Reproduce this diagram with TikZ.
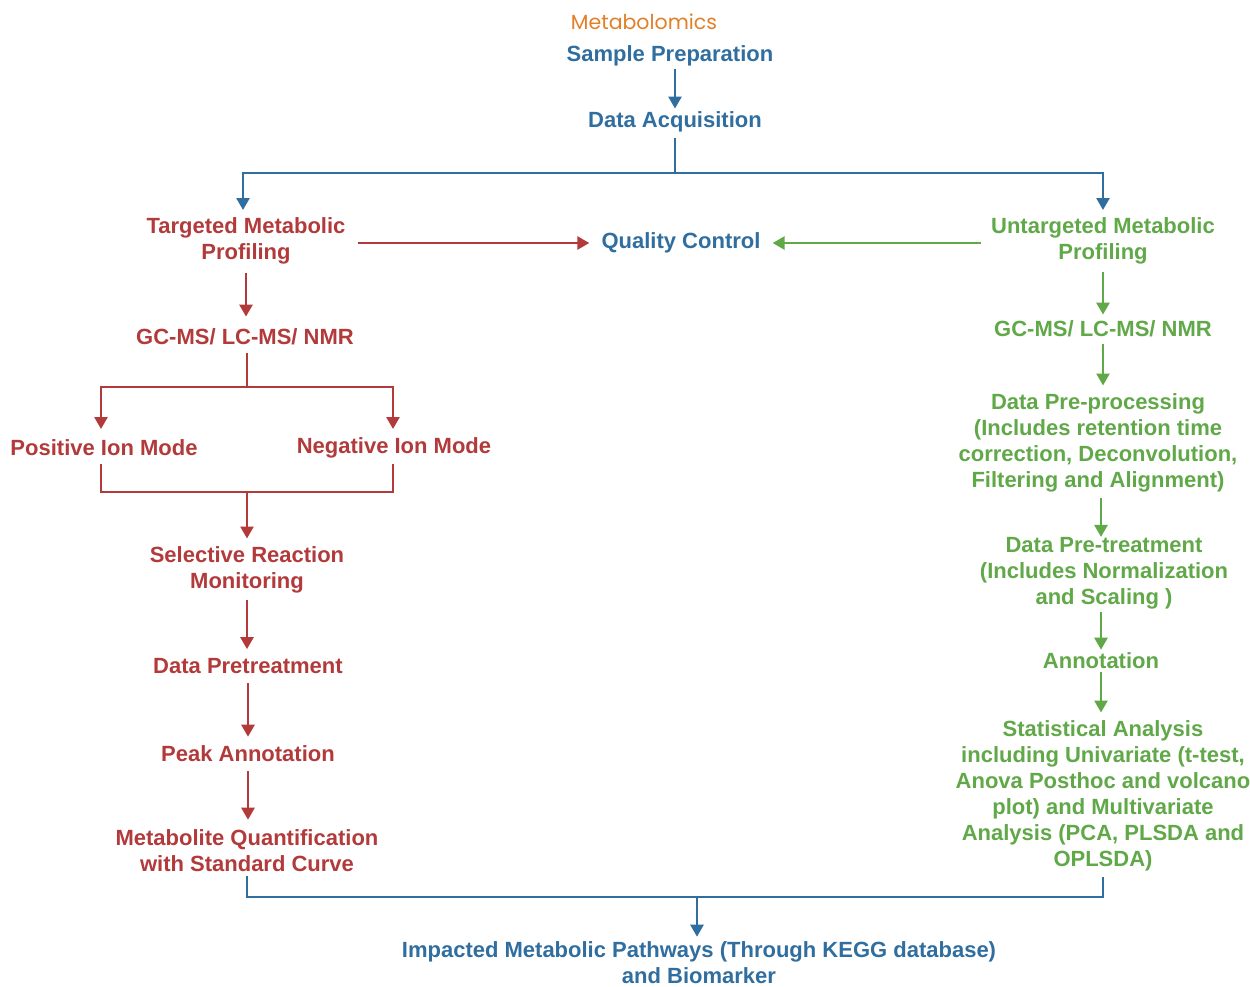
\documentclass[tikz,border=0pt]{standalone}
\usepackage{fontspec}
\setmainfont{Liberation Sans}
\newfontfamily\titlefont{Poppins}
\usetikzlibrary{arrows.meta}
\definecolor{cblue}{RGB}{48,110,160}
\definecolor{cred}{RGB}{178,58,58}
\definecolor{cgreen}{RGB}{96,168,72}
\definecolor{corange}{RGB}{226,128,40}
\tikzset{
  lbl/.style={inner sep=0pt, align=center, font=\fontsize{22}{26}\selectfont\bfseries},
  conn/.style={line width=2.6pt},
  arr/.style={conn, -{Triangle[width=13pt,length=12pt]}},
}
\begin{document}
\begin{tikzpicture}[x=1pt,y=-1pt]
\useasboundingbox (0,0) rectangle (1250,986);
% title and top
\node[font=\titlefont\fontsize{20.5}{24}\selectfont, text=corange, inner sep=0pt] (title) at (644,22) {Metabolomics};
\node[lbl, text=cblue] (sp) at (670,56) {Sample Preparation};
\node[lbl, text=cblue] (da) at (675,122) {Data Acquisition};
\node[lbl, text=cblue] (qc) at (681,243) {Quality Control};
% targeted branch
\node[lbl, text=cred] (tmp) at (246,241) {Targeted Metabolic\\Profiling};
\node[lbl, text=cred] (gcl) at (245,337) {GC-MS/ LC-MS/ NMR};
\node[lbl, text=cred] (pos) at (104,448) {Positive Ion Mode};
\node[lbl, text=cred] (neg) at (394,448) {Negative Ion Mode};
\node[lbl, text=cred] (srm) at (247,570) {Selective Reaction\\Monitoring};
\node[lbl, text=cred] (dpt) at (248,666) {Data Pretreatment};
\node[lbl, text=cred] (pa) at (248,754) {Peak Annotation};
\node[lbl, text=cred] (mq) at (247,851) {Metabolite Quantification\\with Standard Curve};
% untargeted branch
\node[lbl, text=cgreen] (utm) at (1103,241) {Untargeted Metabolic\\Profiling};
\node[lbl, text=cgreen] (gcr) at (1103,329) {GC-MS/ LC-MS/ NMR};
\node[lbl, text=cgreen] (dpp) at (1098,443) {Data Pre-processing\\(Includes retention time\\correction, Deconvolution,\\Filtering and Alignment)};
\node[lbl, text=cgreen] (dptr) at (1104,573) {Data Pre-treatment\\(Includes Normalization\\and Scaling )};
\node[lbl, text=cgreen] (ann) at (1101,661) {Annotation};
\node[lbl, text=cgreen] (sa) at (1103,796) {Statistical Analysis\\including Univariate (t-test,\\Anova Posthoc and volcano\\plot) and Multivariate\\Analysis (PCA, PLSDA and\\OPLSDA)};
% bottom
\node[lbl, text=cblue] (imp) at (699,963) {Impacted Metabolic Pathways (Through KEGG database)\\and Biomarker};

% coordinates
\coordinate (split) at (675,173);
\coordinate (tmpin) at (243,210);
\coordinate (utmin) at (1103,210);
\coordinate (ionsplit) at (247,387);
\coordinate (posin) at (101,429);
\coordinate (negin) at (393,429);
\coordinate (posout) at (101,464);
\coordinate (negout) at (393,464);
\coordinate (ionjoin) at (247,492);
\coordinate (mqout) at (247,876);
\coordinate (saout) at (1103,877);
\coordinate (join) at (697,897);

% blue connectors
\draw[arr, cblue] ([yshift=-3pt]sp.south -| da.north) -- ([yshift=3pt]da.north);
\draw[conn, cblue] ([yshift=-6pt]da.south) -- (split);
\draw[arr, cblue] (split) -| (tmpin);
\draw[arr, cblue] (split) -| (utmin);
% QC connectors
\draw[arr, cred] ([xshift=12pt]tmp.east |- qc.west) -- ([xshift=-12pt]qc.west);
\draw[arr, cgreen] ([xshift=-10pt]utm.west |- qc.east) -- ([xshift=12pt]qc.east);
% targeted chain
\draw[arr, cred] ([yshift=-8pt]tmp.south) -- ([yshift=12pt]gcl.north -| tmp.south);
\draw[conn, cred] ([yshift=-8pt]gcl.south -| ionsplit) -- (ionsplit);
\draw[arr, cred] (ionsplit) -| (posin);
\draw[arr, cred] (ionsplit) -| (negin);
\draw[conn, cred] (posout) |- (ionjoin);
\draw[conn, cred] (negout) |- (ionjoin);
\draw[arr, cred] (ionjoin) -- ([yshift=8pt]srm.north);
\draw[arr, cred] ([yshift=-6pt]srm.south) -- ([yshift=9pt]dpt.north -| srm.south);
\draw[arr, cred] ([yshift=-9pt]dpt.south) -- ([yshift=9pt]pa.north -| dpt.south);
\draw[arr, cred] ([yshift=-9pt]pa.south) -- ([yshift=10pt]mq.north -| pa.south);
% untargeted chain
\draw[arr, cgreen] ([yshift=-7pt]utm.south) -- ([yshift=6pt]gcr.north);
\draw[arr, cgreen] ([yshift=-7pt]gcr.south) -- ([yshift=8pt]dpp.north -| gcr.south);
\draw[arr, cgreen] ([yshift=-5pt]dpp.south -| ann.south) -- ([yshift=0pt]dptr.north -| ann.north);
\draw[arr, cgreen] ([yshift=-3pt]dptr.south -| ann.south) -- ([yshift=3pt]ann.north);
\draw[arr, cgreen] ([yshift=-3pt]ann.south) -- ([yshift=8pt]sa.north -| ann.south);
% final join
\draw[conn, cblue] (mqout) |- (join) -| (saout);
\draw[arr, cblue] (join) -- ([yshift=5pt]imp.north -| join);
\end{tikzpicture}
\end{document}
